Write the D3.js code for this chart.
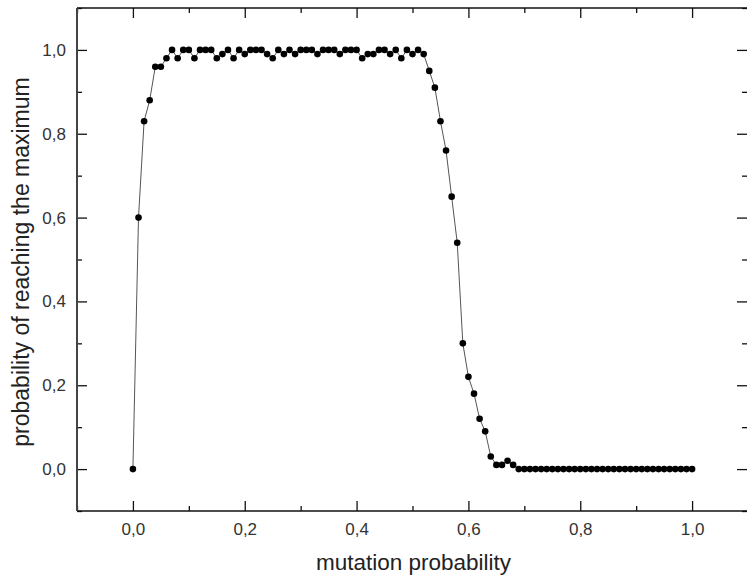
<!DOCTYPE html>
<html>
<head>
<meta charset="utf-8">
<script src="https://cdn.jsdelivr.net/npm/d3@7"></script>
<style>
body { margin: 0; background: #fff; }
text { font-family: "Liberation Sans", Arial, sans-serif; }
</style>
</head>
<body>
<div id="chart"></div>
<script>
var width = 747;
var height = 578;

// mutation probability 0.00 .. 1.00 step 0.01
var mutation = d3.range(0, 101).map(function(i) { return i / 100; });
var reach = [
    0.00, 0.60, 0.83, 0.88, 0.96, 0.96, 0.98, 1.00, 0.98, 1.00,
    1.00, 0.98, 1.00, 1.00, 1.00, 0.98, 0.99, 1.00, 0.98, 1.00,
    0.99, 1.00, 1.00, 1.00, 0.99, 0.98, 1.00, 0.99, 1.00, 0.99,
    1.00, 1.00, 1.00, 0.99, 1.00, 1.00, 1.00, 0.99, 1.00, 1.00,
    1.00, 0.98, 0.99, 0.99, 1.00, 1.00, 0.99, 1.00, 0.98, 1.00,
    0.99, 1.00, 0.99, 0.95, 0.91, 0.83, 0.76, 0.65, 0.54, 0.30,
    0.22, 0.18, 0.12, 0.09, 0.03, 0.01, 0.01, 0.02, 0.01, 0.00,
    0.00, 0.00, 0.00, 0.00, 0.00, 0.00, 0.00, 0.00, 0.00, 0.00,
    0.00, 0.00, 0.00, 0.00, 0.00, 0.00, 0.00, 0.00, 0.00, 0.00,
    0.00, 0.00, 0.00, 0.00, 0.00, 0.00, 0.00, 0.00, 0.00, 0.00,
    0.00
];
var majorTicks = [0, 0.2, 0.4, 0.6, 0.8, 1.0];
var minorTicks = [-0.1, 0.1, 0.3, 0.5, 0.7, 0.9, 1.1];

var svg = d3.select("#chart")
    .append("svg")
    .attr("width", width)
    .attr("height", height)

var x = d3.scaleLinear().domain([-0.1, 1.1]).range([77, 748]);
var y = d3.scaleLinear().domain([-0.1, 1.1]).range([511, 8]);

var fmt = function(d) { return d3.format(".1f")(d).replace(".", ","); };

function drawAxis(axis, transform, labels) {
    var g = svg.append("g").attr("transform", transform);
    g.call(axis.tickValues(majorTicks).tickSize(10).tickFormat(labels ? fmt : ""));
    g.selectAll(".tick line").attr("stroke", "#111").attr("stroke-width", 1.3);
    g.append("g").call(axis.tickValues(minorTicks).tickSize(5).tickFormat(""))
        .selectAll(".tick line").attr("stroke", "#111").attr("stroke-width", 1.3);
    g.selectAll(".domain").remove();
    g.selectAll("text")
        .attr("font-size", 17)
        .attr("fill", "#333")
        .style("font-family", "'Liberation Sans', Arial, sans-serif");
    return g;
}

// ticks point inward on all four sides
var bottom = drawAxis(d3.axisTop(x), "translate(0," + 511 + ")", true);
bottom.selectAll("text").attr("y", 12).attr("dy", "0.71em");
drawAxis(d3.axisBottom(x), "translate(0," + 8 + ")", false);
var left = drawAxis(d3.axisRight(y), "translate(" + 77 + ",0)", true);
left.selectAll("text").attr("x", -11).attr("text-anchor", "end");
drawAxis(d3.axisLeft(y), "translate(" + 747 + ",0)", false);

// frame
svg.append("path")
    .attr("d", "M77,8H747")
    .attr("stroke", "#111").attr("stroke-width", 1.5).attr("fill", "none");
svg.append("path")
    .attr("d", "M77,511H747")
    .attr("stroke", "#111").attr("stroke-width", 1.5).attr("fill", "none");
svg.append("path")
    .attr("d", "M77,8V511")
    .attr("stroke", "#444").attr("stroke-width", 2).attr("fill", "none");

var line = d3.line()
    .x(function(d, i) { return x(mutation[i]); })
    .y(function(d) { return y(d); });

svg.append("path")
    .datum(reach)
    .attr("d", line)
    .attr("fill", "none")
    .attr("stroke", "#555")
    .attr("stroke-width", 1);

svg.append("g").selectAll("circle").data(reach)
    .enter().append("circle")
    .attr("cx", function(d, i) { return x(mutation[i]); })
    .attr("cy", function(d) { return y(d); })
    .attr("r", 3.3)
    .attr("fill", "#000");

svg.append("text")
    .attr("x", x(0.5) + 1)
    .attr("y", 570)
    .attr("text-anchor", "middle")
    .attr("font-size", 22.5)
    .attr("fill", "#222")
    .text("mutation probability");

svg.append("text")
    .attr("transform", "translate(29," + 262 + ") rotate(-90)")
    .attr("text-anchor", "middle")
    .attr("font-size", 23)
    .attr("fill", "#222")
    .text("probability of reaching the maximum");
</script>
</body>
</html>
